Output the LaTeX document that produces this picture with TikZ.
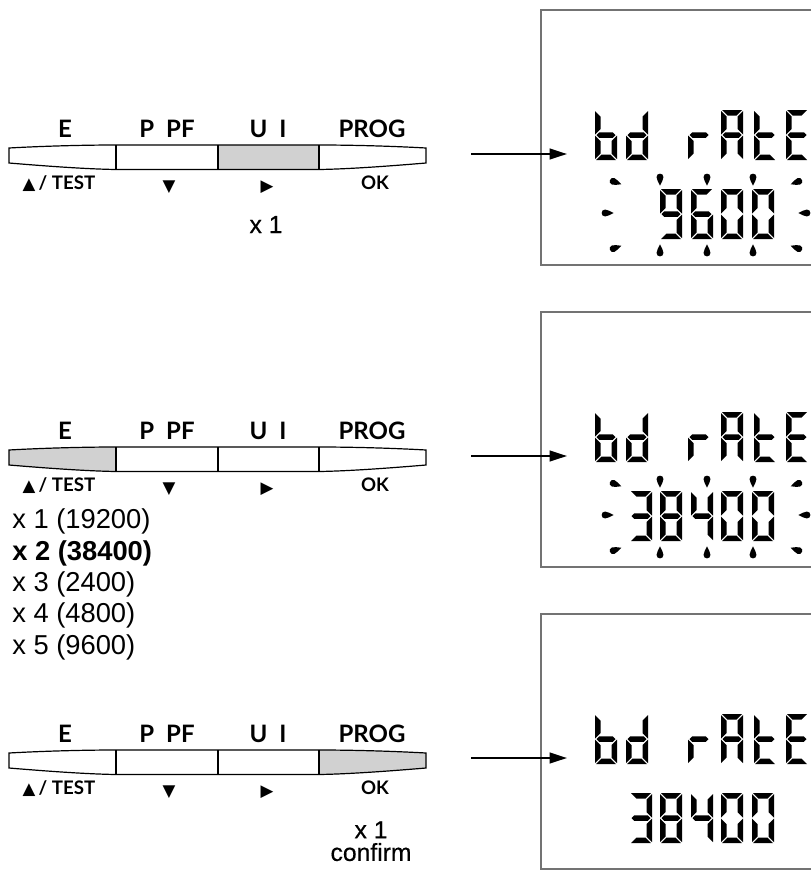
\documentclass[tikz,border=0pt]{standalone}
\usepackage{fontspec}
\setmainfont{Liberation Sans}
\newfontfamily\keyfont{Lato}
\newfontfamily\shapesfont{DejaVu Sans}
\newfontfamily\pressfont[FakeBold=0.5]{Liberation Sans}
\usetikzlibrary{arrows.meta}

% outline of the four-key pad
\newcommand\keyoutline{(9,3) .. controls (45,1) and (85,0) .. (116,0) -- (319,0) .. controls (350,0) and (390,1) .. (426,3) -- (426,18) .. controls (390,21) and (350,24) .. (319,24.5) -- (116,24.5) .. controls (85,24) and (45,21) .. (9,18) -- cycle}

% seven-segment pieces (cell 22 x 50)
\newcommand\lcdsega{\fill[lcdink] (1,0) -- (21,0) -- (15.5,5.5) -- (6.5,5.5) -- cycle;}
\newcommand\lcdsegd{\fill[lcdink] (1,50) -- (21,50) -- (15.5,44.5) -- (6.5,44.5) -- cycle;}
\newcommand\lcdsegg{\fill[lcdink] (1.5,25) -- (4.25,22.25) -- (17.75,22.25) -- (20.5,25) -- (17.75,27.75) -- (4.25,27.75) -- cycle;}
\newcommand\lcdsegf{\fill[lcdink] (0,1) -- (5.5,6.5) -- (5.5,19) -- (0,24.5) -- cycle;}
\newcommand\lcdsege{\fill[lcdink] (0,25.5) -- (5.5,31) -- (5.5,43.5) -- (0,49) -- cycle;}
\newcommand\lcdsegb{\fill[lcdink] (22,1) -- (16.5,6.5) -- (16.5,19) -- (22,24.5) -- cycle;}
\newcommand\lcdsegc{\fill[lcdink] (22,25.5) -- (16.5,31) -- (16.5,43.5) -- (22,49) -- cycle;}
\newcommand\lcdchar[3]{\begin{scope}[shift={(#1,#2)}]\foreach \sg in {#3}{\csname lcdseg\sg\endcsname}\end{scope}}
\newcommand\bdrate[1]{%
  \lcdchar{595}{#1}{f,e,d,c,g}% b
  \lcdchar{626}{#1}{b,c,d,e,g}% d
  \lcdchar{688}{#1}{e,g}% r
  \lcdchar{721}{#1}{a,b,c,e,f,g}% A
  \lcdchar{754}{#1}{f,e,g,d}% t
  \lcdchar{786}{#1}{a,f,g,e,d}}% E

\begin{document}
\begin{tikzpicture}[
  x=0.75pt, y=-0.75pt,
  keyline/.style={draw=black, line width=0.9pt},
  keyshade/.style={fill=black!18},
  toplab/.style={font=\keyfont\bfseries\fontsize{18}{20}\selectfont, anchor=base, inner sep=0pt},
  botlab/.style={font=\keyfont\bfseries\fontsize{14}{16}\selectfont, anchor=base, inner sep=0pt},
  arrowsym/.style={font=\shapesfont\fontsize{12.5}{14}\selectfont, inner sep=0pt},
  count/.style={font=\pressfont\fontsize{18.5}{17}\selectfont, align=center, inner sep=0pt},
  rate/.style={font=\fontsize{20.5}{23}\selectfont, anchor=base west, inner sep=0pt},
  lcd/.style={draw=black!55, line width=0.9pt, minimum width=216.75pt,
              minimum height=191.25pt, inner sep=0pt},
  lcdink/.style={fill=black},
  flow/.style={-{Triangle[length=13pt,width=8pt]}, line width=1.5pt},
  pics/drop/.style={code={
    \fill[lcdink] (0,5pt) .. controls (1.2pt,2.4pt) and (2.6pt,0.2pt) .. (2.6pt,-1.4pt)
      .. controls (2.6pt,-3.2pt) and (1.4pt,-4pt) .. (0,-4pt)
      .. controls (-1.4pt,-4pt) and (-2.6pt,-3.2pt) .. (-2.6pt,-1.4pt)
      .. controls (-2.6pt,0.2pt) and (-1.2pt,2.4pt) .. cycle;
  }},
  pics/keypad/.style 2 args={code={
    \begin{scope}
      \clip (#1,-5) rectangle (#2,30);
      \fill[keyshade] \keyoutline;
    \end{scope}
    \draw[keyline] \keyoutline;
    \draw[keyline] (116,0) -- (116,24.5) (218,0) -- (218,24.5) (319,0) -- (319,24.5);
    \node[toplab] (-e) at (65,-8) {E};
    \node[toplab] (-p) at (167,-8) {P\enspace PF};
    \node[toplab] (-u) at (268,-8) {U\enspace I};
    \node[toplab] (-prog) at (372,-8) {PROG};
    \node[botlab] (-up) at (59,44) {{\shapesfont\fontsize{12.5}{14}\selectfont ▲}\,/ TEST};
    \node[arrowsym] (-down) at (169,42) {▼};
    \node[arrowsym] (-right) at (267,42) {▶};
    \node[botlab] (-ok) at (375,44) {OK};
  }}
]
\clip (0,0) rectangle (811,872);

% key pads, pressed key shaded
\pic (kp1) at (0,145) {keypad={218}{319}};
\pic (kp2) at (0,447) {keypad={0}{116}};
\pic (kp3) at (0,750) {keypad={319}{440}};

\node[count, anchor=base] (press1) at (266,233) {x 1};
\node[rate] (r19200) at (12,528) {x 1 (19200)};
\node[rate, font=\bfseries\fontsize{20.5}{23}\selectfont] (r38400) at (12,560) {x 2 (38400)};
\node[rate] (r2400) at (12,591) {x 3 (2400)};
\node[rate] (r4800) at (12,622) {x 4 (4800)};
\node[rate] (r9600) at (12,654) {x 5 (9600)};
\node[count, anchor=north] (press3) at (371,821) {x 1\\confirm};

% displays
\node[lcd] (lcd1) at (685.5,137.5) {};
\node[lcd] (lcd2) at (685.5,439.5) {};
\node[lcd] (lcd3) at (685.5,741.5) {};

\coordinate (from1) at (471,154);
\coordinate (to1) at (567,154);
\coordinate (from2) at (471,456);
\coordinate (to2) at (567,456);
\coordinate (from3) at (471,758);
\coordinate (to3) at (567,758);
\draw[flow] (from1) -- (to1);
\draw[flow] (from2) -- (to2);
\draw[flow] (from3) -- (to3);

\bdrate{110}
\bdrate{412}
\bdrate{714}

% 9600 flashing
\lcdchar{660}{189}{a,b,c,d,f,g}
\lcdchar{691}{189}{a,f,g,e,d,c}
\lcdchar{721}{189}{a,b,c,d,e,f}
\lcdchar{752}{189}{a,b,c,d,e,f}
% 38400 flashing
\lcdchar{630}{491}{a,b,g,c,d}
\lcdchar{660}{491}{a,b,c,d,e,f,g}
\lcdchar{691}{491}{f,g,b,c}
\lcdchar{721}{491}{a,b,c,d,e,f}
\lcdchar{752}{491}{a,b,c,d,e,f}
% 38400 confirmed
\lcdchar{630}{793}{a,b,g,c,d}
\lcdchar{660}{793}{a,b,c,d,e,f,g}
\lcdchar{691}{793}{f,g,b,c}
\lcdchar{721}{793}{a,b,c,d,e,f}
\lcdchar{752}{793}{a,b,c,d,e,f}

% flashing marks
\foreach \T in {10,312} {
  \foreach \rx/\ry/\rr in {660/169/180,707/169/180,753/169/180,660/241/0,707/241/0,753/241/0,
      607/203/-90,805/203/90,615/172/-110,615/238/-70,797/172/110,797/238/70}
    \pic[rotate=\rr] at (\rx,\T+\ry) {drop};
}
\end{tikzpicture}
\end{document}
